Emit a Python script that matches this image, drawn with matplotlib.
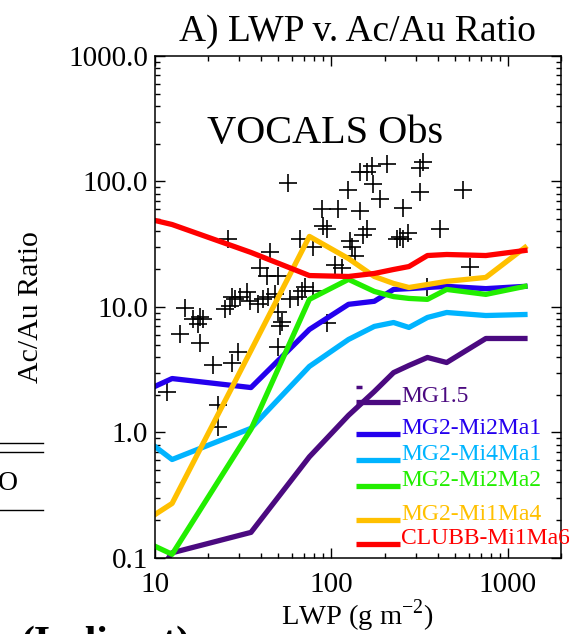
import matplotlib
matplotlib.use("Agg")
import matplotlib.pyplot as plt
from matplotlib.lines import Line2D
from matplotlib.ticker import LogLocator, NullFormatter

plt.rcParams['font.family'] = 'Liberation Serif'
plt.rcParams['mathtext.fontset'] = 'custom'
plt.rcParams['mathtext.rm'] = 'Liberation Serif'

# VOCALS observations (LWP in g m-2, Ac/Au ratio)
obs_lwp = [56.7, 124, 145, 159, 170, 206, 330, 317, 172, 188, 317, 556,
           109, 88, 145, 254, 89.5, 94.4, 159, 151, 412, 244, 235, 254,
           271, 127, 131, 136, 78.5, 66.3, 105, 115, 610, 25.9, 44.8, 39.4,
           43.1, 70.8, 68.1, 64.6, 78.5, 58.2, 49.8, 47.9, 43.7, 40.9, 38.3,
           34.5, 33.2, 30.3, 28.4, 27.3, 26.6, 24.9, 14.8, 13.9, 16.4, 18.0,
           17.5, 18.7, 18.0, 21.3, 27.3, 29.5, 49.8, 52.4, 51.1, 49.8, 94.4,
           11.7, 22.8, 22.8, 348]
obs_ratio = [98, 86, 118, 120, 132, 139, 142, 129, 95, 72, 83, 86,
             60, 60, 58, 62, 43.8, 41.5, 41.5, 37.8, 41.5, 35.8, 34.5, 34.5,
             39.2, 33.3, 29.8, 25.3, 29.8, 34.5, 21.8, 20.6, 21.0, 34.5, 27.2, 20.6,
             17.5, 14.3, 13.3, 12.1, 13.3, 11.5, 17.5, 12.6, 12.1, 11.5, 10.5,
             11.1, 13.1, 12.1, 11.5, 12.1, 10.1, 9.55, 9.9, 6.04, 7.95, 8.25,
             7.26, 7.95, 5.21, 3.48, 3.61, 4.34, 9.04, 7.66, 7.0, 4.84, 7.52,
             2.12, 1.67, 1.1, 14.3]

# model curves, binned by LWP
lwp_bins = [10, 12.5, 35, 75, 125, 175, 225, 275, 350, 450, 750, 1250]
mg15 = [0.07, 0.11, 0.16, 0.64, 1.37, 2.12, 3.0, 3.42, 3.96, 3.61, 5.61, 5.61]
mi2ma1 = [2.33, 2.69, 2.28, 6.62, 10.5, 11.1, 13.8, 14.0, 14.3, 14.6, 14.0, 14.6]
mi4ma1 = [0.773, 0.609, 1.08, 3.36, 5.51, 7.0, 7.52, 6.87, 8.25, 9.04, 8.55, 8.71]
mi2ma2 = [0.124, 0.107, 1.06, 11.5, 16.6, 13.3, 12.1, 11.7, 11.5, 13.8, 12.6, 14.6]
mi1ma4 = [0.222, 0.272, 4.5, 36.5, 24.3, 17.5, 15.4, 14.3, 15.1, 16.0, 17.2, 29.8]
clubb = [48.9, 45.4, 27.2, 17.8, 17.5, 18.5, 19.9, 21.0, 25.7, 26.2, 25.7, 28.2]

names = ['MG1.5', 'MG2-Mi2Ma1', 'MG2-Mi4Ma1', 'MG2-Mi2Ma2', 'MG2-Mi1Ma4', 'CLUBB-Mi1Ma6']
series = [mg15, mi2ma1, mi4ma1, mi2ma2, mi1ma4, clubb]
colors = ['#4b0a80', '#2400ee', '#00b4ff', '#22ee00', '#ffc000', '#ff0000']
key_y = [0.310, 0.247, 0.195, 0.143, 0.076, 0.028]

fig = plt.figure(figsize=(5.69, 6.34), dpi=100)
ax = fig.add_axes([0.2724, 0.1199, 0.7135, 0.7918])

ax.plot(obs_lwp, obs_ratio, '+', color='black', markersize=13.5, markeredgewidth=1.2)
for vals, c in zip(series, colors):
    ax.plot(lwp_bins, vals, '-', color=c, linewidth=3.8)

ax.set_xscale('log')
ax.set_yscale('log')
ax.set_xlim(10, 2000)
ax.set_ylim(0.1, 1000)
ax.set_xticks([10, 100, 1000], ['10', '100', '1000'])
ax.set_yticks([0.1, 1, 10, 100, 1000], ['0.1', '1.0', '10.0', '100.0', '1000.0'])
ax.xaxis.set_minor_locator(LogLocator(base=10, subs=range(2, 10)))
ax.yaxis.set_minor_locator(LogLocator(base=10, subs=range(2, 10)))
ax.xaxis.set_minor_formatter(NullFormatter())
ax.yaxis.set_minor_formatter(NullFormatter())
ax.tick_params(which='both', direction='in', top=True, right=True, width=1.0,
               labelsize=21)
ax.tick_params(which='major', length=7)
ax.tick_params(which='minor', length=3.6)
ax.tick_params(axis='x', which='major', pad=10)
ax.tick_params(axis='y', which='major', pad=5)
for sp in ax.spines.values():
    sp.set_linewidth(1.1)

fig.text(357 / 569, 1 - 625 / 634, 'LWP (g m$^{\\mathregular{-2}}$)', fontsize=20.5,
         ha='center', va='baseline')
fig.text(31 / 569, 1 - 307 / 634, 'Ac/Au Ratio', fontsize=21.5, rotation=90,
         ha='center', va='center')
fig.text(357 / 569, 1 - 32 / 634, 'A) LWP v. Ac/Au Ratio', fontsize=27,
         ha='center', va='center')
ax.text(0.419, 0.846, 'VOCALS Obs', fontsize=29, ha='center', va='center',
        transform=ax.transAxes)

# line key inside the plot
for name, c, yk in zip(names, colors, key_y):
    ax.plot([0.495, 0.603], [yk, yk], color=c, linewidth=3.8,
            transform=ax.transAxes, clip_on=False, solid_capstyle='butt')
    ax.text(0.606, yk, name, color=c, fontsize=17, ha='left', va='baseline',
            transform=ax.transAxes, clip_on=False)
ax.plot([0.495, 0.51], [0.340, 0.340], color=colors[0], linewidth=2.5,
        transform=ax.transAxes, solid_capstyle='butt')

# edge of the neighbouring panel
for yy in [1 - 443 / 634, 1 - 452 / 634, 1 - 510 / 634]:
    fig.add_artist(Line2D([0, 43 / 569], [yy, yy], color='black', linewidth=1.0,
                          transform=fig.transFigure))
fig.text(8 / 569, 1 - 483 / 634, 'O', fontsize=20, ha='center', va='center')
fig.text(20 / 569, 1 - 626 / 634, '(Indirect)', fontsize=30, fontweight='bold',
         ha='left', va='top')

fig.savefig('out.png', dpi=100, facecolor='white')
